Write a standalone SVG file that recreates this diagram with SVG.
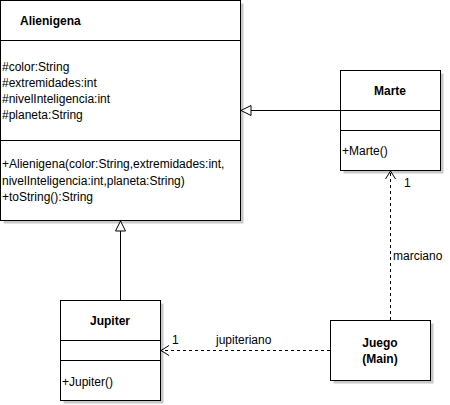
<svg xmlns="http://www.w3.org/2000/svg" width="450" height="405" viewBox="0 0 450 405">
<style>
text{font-family:"Liberation Sans",Arial,sans-serif;font-size:12px;fill:#000}
.b{font-weight:bold}
.c{text-anchor:middle}
.box{fill:#fff;stroke:#000;stroke-width:1}
.sh{fill:#c8c8c8}
.ln{stroke:#000;stroke-width:1;fill:none}
.dash{stroke:#000;stroke-width:1;fill:none;stroke-dasharray:3,3}
</style>
<defs>
<marker id="tri" markerWidth="14" markerHeight="14" refX="11" refY="6" orient="auto" markerUnits="userSpaceOnUse">
<path d="M1,1 L11,6 L1,11 Z" fill="#fff" stroke="#000" stroke-width="1"/>
</marker>
<marker id="open" markerWidth="14" markerHeight="14" refX="10" refY="6" orient="auto" markerUnits="userSpaceOnUse">
<path d="M2,1 L10,6 L2,11" fill="none" stroke="#000" stroke-width="1"/>
</marker>
</defs>
<rect class="sh" x="3.5" y="3.5" width="240" height="220"/>
<rect class="sh" x="343.5" y="73.5" width="100" height="100"/>
<rect class="sh" x="63.5" y="303.5" width="100" height="100"/>
<rect class="sh" x="333.5" y="323.5" width="100" height="60"/>
<g id="connectors">
<line class="ln" x1="340" y1="110.5" x2="241" y2="110.5" marker-end="url(#tri)"/>
<line class="ln" x1="120.5" y1="300" x2="120.5" y2="221" marker-end="url(#tri)"/>
<line class="dash" x1="390.5" y1="320" x2="390.5" y2="171" marker-end="url(#open)"/>
<line class="dash" x1="330" y1="350.5" x2="161" y2="350.5" marker-end="url(#open)"/>
<text x="404" y="187">1</text>
<text x="393" y="260">marciano</text>
<text x="172" y="344">1</text>
<text x="216" y="344">jupiteriano</text>
</g>
<g id="alienigena">
<rect class="box" x="0.5" y="0.5" width="240" height="220"/>
<line class="ln" x1="0.5" y1="40.5" x2="240.5" y2="40.5"/>
<line class="ln" x1="0.5" y1="140.5" x2="240.5" y2="140.5"/>
<text class="b" x="20" y="25">Alienigena</text>
<text x="2" y="71">#color:String</text>
<text x="2" y="87">#extremidades:int</text>
<text x="2" y="103">#nivelInteligencia:int</text>
<text x="2" y="119">#planeta:String</text>
<text x="2" y="168">+Alienigena(color:String,extremidades:int,</text>
<text x="2" y="185">nivelInteligencia:int,planeta:String)</text>
<text x="2" y="201">+toString():String</text>
</g>
<g id="marte">
<rect class="box" x="340.5" y="70.5" width="100" height="100"/>
<line class="ln" x1="340.5" y1="110.5" x2="440.5" y2="110.5"/>
<line class="ln" x1="340.5" y1="130.5" x2="440.5" y2="130.5"/>
<text class="b c" x="390" y="95">Marte</text>
<text x="342" y="155">+Marte()</text>
</g>
<g id="jupiter">
<rect class="box" x="60.5" y="300.5" width="100" height="100"/>
<line class="ln" x1="60.5" y1="340.5" x2="160.5" y2="340.5"/>
<line class="ln" x1="60.5" y1="360.5" x2="160.5" y2="360.5"/>
<text class="b c" x="110" y="325">Jupiter</text>
<text x="62" y="386">+Jupiter()</text>
</g>
<g id="juego">
<rect class="box" x="330.5" y="320.5" width="100" height="60"/>
<text class="b c" x="380" y="347">Juego</text>
<text class="b c" x="380" y="363">(Main)</text>
</g>
</svg>
